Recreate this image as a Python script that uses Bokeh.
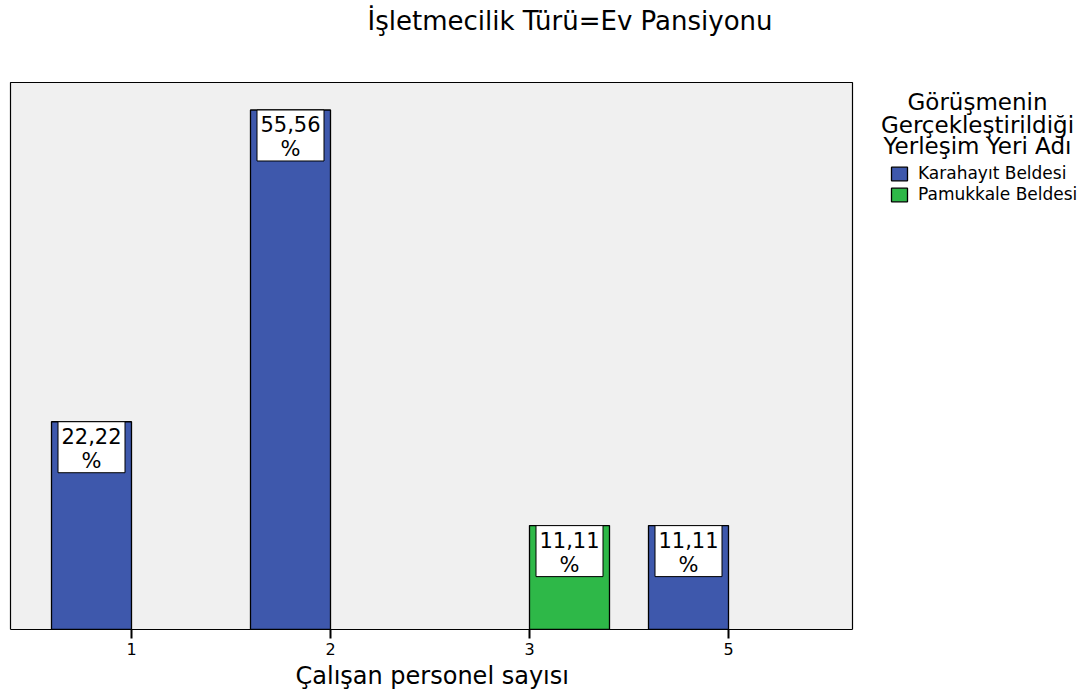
from bokeh.plotting import figure
from bokeh.models import (ColumnDataSource, FixedTicker, Label, Legend,
                          LegendItem, Range1d, BoxAnnotation, Title)
from bokeh.core.properties import value
from bokeh.embed import file_html
from bokeh.resources import INLINE

# ---- data ----
categories = ["1", "2", "3", "5"]
karahayit = [22.22, 55.56, 0.0, 11.11]
pamukkale = [0.0, 0.0, 11.11, 0.0]
series_names = ["Karahayıt Beldesi", "Pamukkale Beldesi"]
colors = ["#3E58AC", "#2EB848"]
title_text = "İşletmecilik Türü=Ev Pansiyonu"
x_title = "Çalışan personel sayısı"
legend_title_lines = ["Görüşmenin", "Gerçekleştirildiği", "Yerleşim Yeri Adı"]

FONT = "DejaVu Sans"

# ---- layout constants (pixels) ----
W, H = 1090, 693
BOTTOM = 64                 # space below plot area
PLOT_L, PLOT_R = 10, 852    # grey plot area, x in pixels
PLOT_T = 82                 # top of grey plot area
FRAME_H = H - BOTTOM        # frame spans full width and up to top
PX_CAT = 199.0              # pixels per category
FIRST_TICK = 131            # pixel of first category

Y_MAX = 58.5
px_per_unit = (FRAME_H - PLOT_T) / Y_MAX
x_start = -FIRST_TICK / PX_CAT
x_end = x_start + W / PX_CAT
x_left = x_start + PLOT_L / PX_CAT
x_right = x_start + PLOT_R / PX_CAT
y_end = FRAME_H / px_per_unit

bar_w = 80 / PX_CAT
box_w = 67 / PX_CAT
box_h = 51 / px_per_unit


def fmt(v):
    return ("%.2f" % v).replace(".", ",") + "\n%"


def make_source(vals, shift):
    xs, ys, labels, bb = [], [], [], []
    for i, v in enumerate(vals):
        if v > 0:
            xs.append(i + shift)
            ys.append(v)
            labels.append(fmt(v))
            bb.append(v - box_h)
    return ColumnDataSource(dict(x=xs, top=ys, label=labels,
                                 left=[x - box_w / 2 for x in xs],
                                 right=[x + box_w / 2 for x in xs],
                                 bbot=bb))


src_k = make_source(karahayit, -bar_w / 2)
src_p = make_source(pamukkale, bar_w / 2)

p = figure(width=W, height=H, output_backend="svg", toolbar_location=None,
           x_range=Range1d(x_start, x_end), y_range=Range1d(0, y_end),
           min_border_left=0, min_border_right=0, min_border_top=0,
           min_border_bottom=BOTTOM)

p.background_fill_color = "white"
p.border_fill_color = "white"
p.outline_line_color = None
p.xgrid.visible = False
p.ygrid.visible = False
p.yaxis.visible = False

plot_area = BoxAnnotation(left=x_left, right=x_right, bottom=0, top=Y_MAX,
                          fill_color="#F0F0F0", fill_alpha=1.0,
                          line_color="black", line_alpha=1.0, line_width=1.2,
                          level="underlay")
p.add_layout(plot_area)

r_k = p.vbar(x="x", top="top", width=bar_w, source=src_k, fill_color=colors[0],
             line_color="black", line_width=1.3)
r_p = p.vbar(x="x", top="top", width=bar_w, source=src_p, fill_color=colors[1],
             line_color="black", line_width=1.3)

for src in (src_k, src_p):
    p.quad(left="left", right="right", top="top", bottom="bbot", source=src,
           fill_color="white", line_color="black", line_width=1)
    p.text(x="x", y="top", text="label", source=src, text_align="center",
           text_baseline="top", text_font=value(FONT), text_font_size="21px",
           text_line_height=1.0, text_color="black", y_offset=3)

ax = p.xaxis[0]
ax.bounds = (x_left, x_right)
ax.ticker = FixedTicker(ticks=list(range(len(categories))))
ax.major_label_overrides = {i: c for i, c in enumerate(categories)}
ax.minor_tick_line_color = None
ax.major_tick_in = 0
ax.major_tick_out = 9
ax.major_tick_line_width = 2
ax.major_tick_line_color = "black"
ax.axis_line_color = "black"
ax.axis_line_width = 1.2
ax.major_label_text_font = FONT
ax.major_label_text_font_size = "16px"
ax.major_label_text_color = "black"
ax.major_label_standoff = 4

# x axis title, centred under the grey plot area
p.add_layout(Title(text=x_title, align="left", offset=295,
                   vertical_align="bottom", standoff=5, text_font=FONT,
                   text_font_size="24px", text_font_style="normal",
                   text_color="black"), "below")

# chart title
p.add_layout(Label(x=569.5, y=FRAME_H - 20, x_units="screen", y_units="screen",
                   text=title_text, text_align="center",
                   text_baseline="alphabetic", text_font=FONT,
                   text_font_size="26px", text_color="black"))

# legend title (centred lines)
for line, base in zip(legend_title_lines, [101, 124, 145]):
    p.add_layout(Label(x=977, y=FRAME_H - base, x_units="screen",
                       y_units="screen", text=line, text_align="center",
                       text_baseline="alphabetic", text_font=FONT,
                       text_font_size="23px", text_color="black"))

legend = Legend(items=[LegendItem(label=series_names[0], renderers=[r_k]),
                       LegendItem(label=series_names[1], renderers=[r_p])],
                location=(889, FRAME_H - 204), orientation="vertical",
                padding=0, margin=0, spacing=1,
                glyph_width=20, glyph_height=17, label_height=20,
                label_standoff=9, label_text_font=FONT,
                label_text_font_size="17px", label_text_color="black",
                border_line_color=None, background_fill_alpha=0)
p.add_layout(legend)

open("out.html", "w").write(file_html(p, INLINE))
